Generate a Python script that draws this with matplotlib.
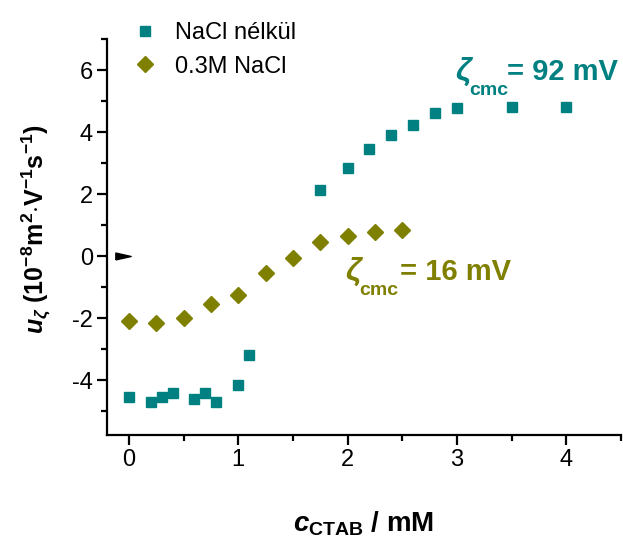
import matplotlib
matplotlib.use('Agg')
import matplotlib.pyplot as plt
import numpy as np

plt.rcParams['font.family'] = ['Liberation Sans', 'DejaVu Sans']
plt.rcParams['mathtext.fontset'] = 'custom'
plt.rcParams['mathtext.rm'] = 'Liberation Sans:bold'
plt.rcParams['mathtext.it'] = 'Liberation Sans:italic:bold'
plt.rcParams['mathtext.bf'] = 'Liberation Sans:bold'
plt.rcParams['axes.unicode_minus'] = False

# NaCl nelkul (teal squares)
c_nonacl = [0, 0.2, 0.3, 0.4, 0.6, 0.7, 0.8, 1.0, 1.1,
            1.75, 2.0, 2.2, 2.4, 2.6, 2.8, 3.0, 3.5, 4.0]
u_nonacl = [-4.55, -4.69, -4.54, -4.40, -4.62, -4.42, -4.69, -4.17, -3.20,
            2.13, 2.84, 3.44, 3.90, 4.24, 4.62, 4.78, 4.81, 4.81]

# 0.3M NaCl (olive diamonds)
c_nacl = [0, 0.25, 0.5, 0.75, 1.0, 1.25, 1.5, 1.75, 2.0, 2.25, 2.5]
u_nacl = [-2.10, -2.15, -1.99, -1.54, -1.27, -0.56, -0.05, 0.44, 0.66, 0.78, 0.84]

teal = '#008080'
olive = '#808000'

fig = plt.figure(figsize=(6.23, 5.42), dpi=100)
ax = fig.add_axes([0.1717, 0.1974, 0.8251, 0.7306])

ax.plot(c_nonacl, u_nonacl, linestyle='none', marker='s', markersize=7.5,
        color=teal, markeredgecolor=teal, label='NaCl nélkül')
ax.plot(c_nacl, u_nacl, linestyle='none', marker='D', markersize=8,
        color=olive, markeredgecolor=olive, label='0.3M NaCl')

# small arrow marker at zero
arrow = [(-1, -0.45), (1, 0), (-1, 0.45), (-1, -0.45)]
ax.plot([-0.055], [0], linestyle='none', marker=arrow, markersize=11,
        color='black')

ax.set_xlim(-0.2, 4.5)
ax.set_ylim(-5.77, 7.0)
ax.set_xticks([0, 1, 2, 3, 4])
ax.set_xticks(np.arange(0.5, 4.6, 1.0), minor=True)
ax.set_yticks([-4, -2, 0, 2, 4, 6])
ax.set_yticks([-5, -3, -1, 1, 3, 5, 7], minor=True)

for s in ['top', 'right']:
    ax.spines[s].set_visible(False)
for s in ['left', 'bottom']:
    ax.spines[s].set_linewidth(1.6)

ax.tick_params(which='major', direction='out', length=7, width=1.6,
               labelsize=17, pad=3)
ax.tick_params(which='minor', direction='out', length=4, width=1.6)

ax.set_ylabel(r'$u_{\zeta}$ (10$^{-8}$m$^{2}$$\cdot$V$^{-1}$s$^{-1}$)',
              fontsize=18, fontweight='bold', labelpad=6)
ax.yaxis.set_label_coords(-0.105, 0.52)
ax.set_xlabel(r'$c_{\mathbf{CTAB}}$ / mM', fontsize=20, fontweight='bold',
              labelpad=28)

# zeta_cmc annotations, built from pieces to keep them compact
ax.text(2.98, 5.68, r'$\zeta$', color=teal, fontsize=23, ha='left', va='baseline')
ax.text(3.11, 5.18, 'cmc', color=teal, fontsize=14, fontweight='bold',
        ha='left', va='baseline')
ax.text(3.46, 5.68, '= 92 mV', color=teal, fontsize=21, fontweight='bold',
        ha='left', va='baseline')

ax.text(1.98, -0.77, r'$\zeta$', color=olive, fontsize=23, ha='left', va='baseline')
ax.text(2.11, -1.27, 'cmc', color=olive, fontsize=14, fontweight='bold',
        ha='left', va='baseline')
ax.text(2.48, -0.77, '= 16 mV', color=olive, fontsize=21, fontweight='bold',
        ha='left', va='baseline')

ax.legend(loc='upper left', bbox_to_anchor=(0.183, 0.99),
          bbox_transform=fig.transFigure, frameon=False, fontsize=17,
          handletextpad=0.7, labelspacing=0.5, borderaxespad=0.3,
          handlelength=1.2)

fig.savefig('out.png', dpi=100)
